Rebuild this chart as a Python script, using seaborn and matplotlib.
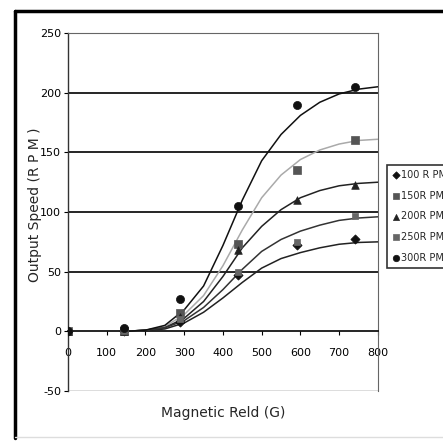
import seaborn as sns
import pandas as pd
import numpy as np
import matplotlib.pyplot as plt

# measured points
field = [0, 145, 290, 440, 590, 740]
rpm100 = [0, 0, 8, 47, 72, 77]
rpm150 = [0, 0, 15, 73, 135, 160]
rpm200 = [0, 0, 12, 68, 110, 123]
rpm250 = [0, 0, 10, 50, 75, 97]
rpm300 = [0, 3, 27, 105, 190, 205]

# fitted trend lines
curve_x = [150, 200, 250, 300, 350, 400, 450, 500, 550, 600, 650, 700, 750, 800]
fit100 = [0, 0.5, 2, 7, 16, 28, 41, 53, 61, 66, 70, 73, 74.5, 75]
fit150 = [0, 1, 4, 14, 30, 55, 85, 112, 131, 144, 152, 157, 160, 161]
fit200 = [0, 1, 3, 11, 25, 46, 70, 88, 102, 112, 118, 122, 124, 125]
fit250 = [0, 1, 3, 9, 20, 35, 52, 67, 77, 84, 89, 93, 95, 96]
fit300 = [0, 1, 5, 18, 38, 72, 110, 143, 165, 181, 192, 199, 203, 205]

labels = ['100 R PM', '150R PM', '200R PM', '250R PM', '300R PM']

sns.set_style('white')
plt.rcParams['font.family'] = ['DejaVu Sans']
plt.rcParams['axes.unicode_minus'] = False

fig = plt.figure(figsize=(4.43, 4.41), dpi=100)
ax = fig.add_axes([0.1535, 0.1134, 0.6995, 0.8116])

# outer frame
fig.add_artist(plt.Line2D([15 / 443, 15 / 443], [3 / 441, 430 / 441], color='black', lw=2.5, transform=fig.transFigure))
fig.add_artist(plt.Line2D([15 / 443, 1.0], [430 / 441, 430 / 441], color='black', lw=2.5, transform=fig.transFigure))
fig.add_artist(plt.Line2D([15 / 443, 1.0], [4 / 441, 4 / 441], color='#dddddd', lw=1, transform=fig.transFigure))

for g in [50, 100, 150, 200]:
    ax.axhline(g, color='black', lw=1.2, zorder=1)
ax.axhline(-50, color='#555555', lw=1, zorder=1)

fits = [fit100, fit150, fit200, fit250, fit300]
pts = [rpm100, rpm150, rpm200, rpm250, rpm300]
line_cols = ['#222222', '#aaaaaa', '#222222', '#333333', '#111111']
markers = ['D', 's', '^', 's', 'o']
msizes = [22, 32, 30, 22, 34]
mcols = ['#111111', '#555555', '#222222', '#666666', '#111111']

for fy, c in zip(fits, line_cols):
    sns.lineplot(x=curve_x, y=fy, color=c, lw=1.1, ax=ax, zorder=3)

for py, m, s, mc, lab in zip(pts, markers, msizes, mcols, labels):
    sns.scatterplot(x=field, y=py, marker=m, s=s, color=mc, edgecolor=mc,
                    linewidth=0.5, ax=ax, zorder=4, label=lab)

ax.set_xlim(0, 800)
ax.set_ylim(-50, 250)
ax.set_xticks(range(0, 801, 100))
ax.set_yticks(range(-50, 251, 50))

ax.spines['bottom'].set_position(('data', 0))
ax.spines['bottom'].set_color('black')
ax.spines['bottom'].set_linewidth(1.2)
ax.spines['left'].set_color('#333333')
ax.spines['left'].set_linewidth(1.0)
for sp in ['top', 'right']:
    ax.spines[sp].set_color('#666666')
    ax.spines[sp].set_linewidth(0.8)

ax.tick_params(axis='x', direction='out', length=3, width=0.8, pad=9, labelsize=8, colors='black')
ax.tick_params(axis='y', direction='out', length=3, width=0.8, pad=2, labelsize=8, colors='black')
ax.xaxis.set_ticks_position('bottom')
ax.yaxis.set_ticks_position('left')

ax.set_xlabel('')
ax.set_ylabel('')
fig.text(223 / 443, 1 - 413 / 441, 'Magnetic Reld (G)', ha='center', va='center', fontsize=10)
fig.text(35 / 443, 1 - 205 / 441, 'Output Speed (R P M )', ha='center', va='center', fontsize=10, rotation=90)

leg = ax.legend(loc='upper left', bbox_to_anchor=(387 / 443, 1 - 165 / 441),
                bbox_transform=fig.transFigure, frameon=True, fontsize=7,
                handletextpad=0.1, borderpad=0.5, labelspacing=1.1,
                handlelength=0.8, fancybox=False, borderaxespad=0, markerscale=0.8)
leg.get_frame().set_edgecolor('black')
leg.get_frame().set_linewidth(1.2)

fig.savefig('out.png', dpi=100)
